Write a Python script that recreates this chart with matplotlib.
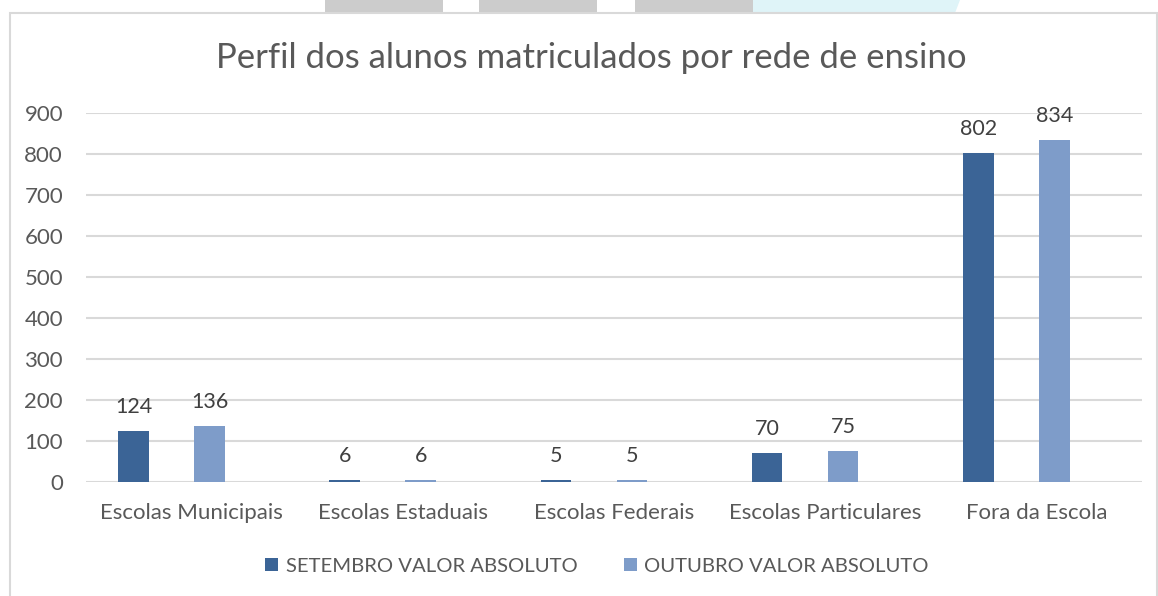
import matplotlib
matplotlib.use("Agg")
import matplotlib.pyplot as plt
from matplotlib.patches import Rectangle, Polygon
import numpy as np

categories = ["Escolas Municipais", "Escolas Estaduais", "Escolas Federais",
              "Escolas Particulares", "Fora da Escola"]
setembro = [124, 6, 5, 70, 802]
outubro = [136, 6, 5, 75, 834]
series_names = ["SETEMBRO VALOR ABSOLUTO", "OUTUBRO VALOR ABSOLUTO"]
yticks = [0, 100, 200, 300, 400, 500, 600, 700, 800, 900]

plt.rcParams['font.family'] = ['Lato', 'DejaVu Sans']

W, H = 1158, 596
fig = plt.figure(figsize=(W / 100, H / 100), dpi=100)

# page decoration at the top and chart border
def px(x0, y0, x1, y1):
    return (x0 / W, 1 - y1 / H, (x1 - x0) / W, (y1 - y0) / H)

for x0, x1 in [(325, 443), (479, 597), (635, 753)]:
    l, b, w, h = px(x0, 0, x1, 13)
    fig.patches.append(Rectangle((l, b), w, h, transform=fig.transFigure,
                                 facecolor="#cccccc", edgecolor="none", zorder=0))
poly = np.array([[753, 0], [960, 0], [955, 13], [753, 13]], dtype=float)
poly[:, 0] /= W
poly[:, 1] = 1 - poly[:, 1] / H
fig.patches.append(Polygon(poly, closed=True, transform=fig.transFigure,
                           facecolor="#dff4f8", edgecolor="none", zorder=0))
l, b, w, h = px(10, 13, 1157, 600)
fig.patches.append(Rectangle((l, b), w, h, transform=fig.transFigure,
                             facecolor="none", edgecolor="#d9d9d9", linewidth=1.5, zorder=1))

ax = fig.add_axes([86 / W, 1 - 482 / H, (1142 - 86) / W, (482 - 113) / H])
ax.set_facecolor("none")

x = np.arange(len(categories))
c1, c2 = "#3b6496", "#7e9cc9"
bw = 0.145
b1 = ax.bar(x - 0.275, setembro, width=bw, color=c1, zorder=3, label=series_names[0])
b2 = ax.bar(x + 0.085, outubro, width=bw, color=c2, zorder=3, label=series_names[1])

for bars, vals in [(b1, setembro), (b2, outubro)]:
    for r, v in zip(bars, vals):
        ax.annotate(str(v), (r.get_x() + r.get_width() / 2, v),
                    xytext=(0, 10), textcoords="offset points",
                    ha="center", va="bottom", fontsize=15.5, color="#404040")

ax.set_xlim(-0.5, len(categories) - 0.5)
ax.set_ylim(0, 900)
ax.set_yticks(yticks)
ax.set_yticklabels([str(t) for t in yticks])
ax.set_xticks(x)
ax.set_xticklabels(categories)
ax.tick_params(axis="both", length=0, labelsize=16, labelcolor="#595959")
ax.tick_params(axis="y", pad=16.5)
ax.tick_params(axis="x", pad=15)
for lab in ax.get_yticklabels():
    lab.set_horizontalalignment("right")
ax.grid(axis="y", color="#d9d9d9", linewidth=1.5, zorder=0)
for s in ax.spines.values():
    s.set_visible(False)

fig.text(591 / W, 1 - 58 / H, "Perfil dos alunos matriculados por rede de ensino",
         ha="center", va="center", fontsize=25, color="#595959")

leg = fig.legend(handles=[b1, b2], labels=series_names, loc="center",
                 bbox_to_anchor=(597 / W, 1 - 566 / H), ncol=2, frameon=False,
                 fontsize=14.6, handlelength=0.65, handleheight=0.65,
                 handletextpad=0.35, columnspacing=2.3, labelcolor="#595959")

fig.savefig("out.png", dpi=100)
